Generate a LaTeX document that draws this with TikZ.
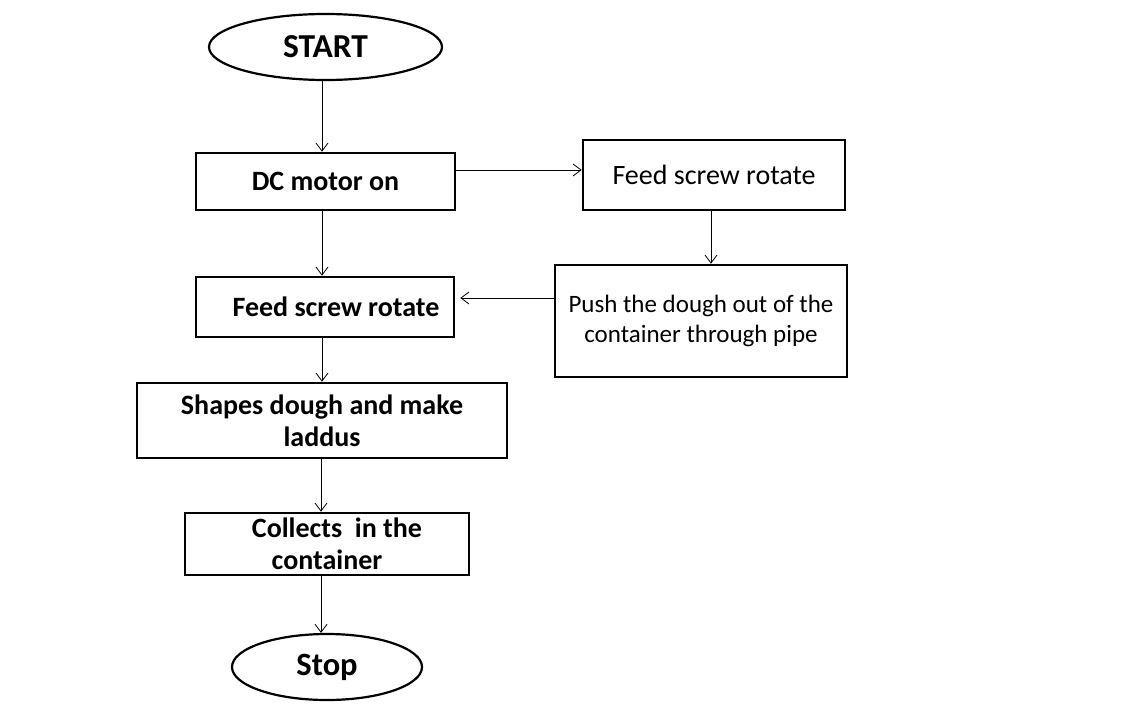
\documentclass[tikz,border=0pt]{standalone}
\usepackage{fontspec}
\setmainfont{Carlito}
\usetikzlibrary{shapes.geometric,arrows.meta}
\begin{document}
\begin{tikzpicture}[x=1pt,y=-1pt,
  box/.style={draw,line width=2.6pt,rectangle,inner sep=0pt,align=center,font=\fontsize{28}{32}\selectfont\bfseries},
  rbox/.style={box,font=\fontsize{28}{30}\selectfont},
  term/.style={draw,line width=2.2pt,ellipse,inner sep=0pt,font=\fontsize{33}{36}\selectfont\bfseries},
  arr/.style={line width=0.8pt,-{Straight Barb[length=8pt,width=12pt,line width=0.8pt]}}]
\useasboundingbox (0,0) rectangle (1131,712);
\node[term,minimum width=233,minimum height=66] (start) at (325.5,47) {\fontsize{33.5}{36}\selectfont START};
\node[box,minimum width=259,minimum height=57] (b2) at (325.5,181.5) {\raisebox{-2pt}{DC motor on}};
\node[rbox,minimum width=262,minimum height=70] (b3) at (714,175) {\raisebox{-2pt}{Feed screw rotate}};
\node[rbox,minimum width=292,minimum height=112,font=\fontsize{25}{30}\selectfont] (b4) at (701,321) {Push the dough out of the\\container through pipe};
\node[box,minimum width=258,minimum height=60] (b5) at (325,307) {\hspace*{22pt}Feed screw rotate};
\node[box,minimum width=370,minimum height=75] (b6) at (322,420.5) {Shapes dough and make\\laddus};
\node[box,minimum width=284,minimum height=62] (b7) at (327,544) {\hspace*{20pt}Collects\ \ in the\\container};
\node[term,minimum width=190,minimum height=66,font=\fontsize{32.5}{36}\selectfont\bfseries] (stop) at (327,667) {\raisebox{-1pt}{Stop}};
\draw[arr] ([xshift=-3.5pt]start.south) coordinate (a0) -- (a0 |- b2.north);
\draw[arr] ([yshift=11.5pt]b2.east) coordinate (a1) -- (a1 -| b3.west);
\draw[arr] ([xshift=-3pt]b3.south) coordinate (a2) -- (a2 |- b4.north);
\draw[arr,shorten >=5pt] ([yshift=23pt]b4.west) coordinate (a3) -- (a3 -| b5.east);
\draw[arr] ([xshift=-3.5pt]b2.south) coordinate (a4) -- (a4 |- b5.north);
\draw[arr] ([xshift=-3pt]b5.south) coordinate (a5) -- (a5 |- b6.north);
\draw[arr] ([xshift=-1pt]b6.south) coordinate (a6) -- (a6 |- b7.north);
\draw[arr] ([xshift=-6pt]b7.south) coordinate (a7) -- (a7 |- stop.north);
\end{tikzpicture}
\end{document}
